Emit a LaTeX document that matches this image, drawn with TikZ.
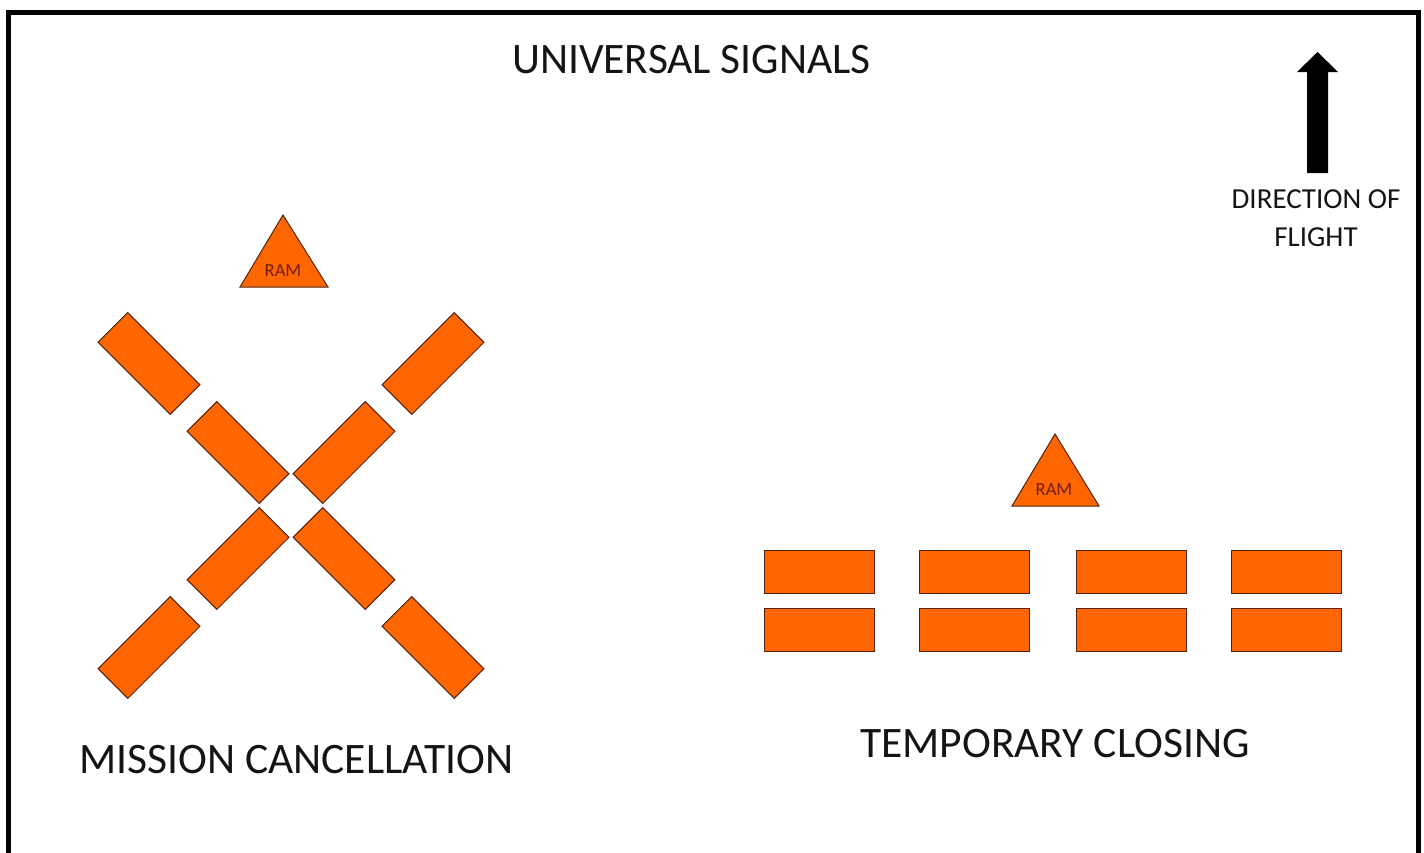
\documentclass[tikz,border=0pt]{standalone}
\usepackage{fontspec}
\setmainfont{Carlito}
\definecolor{signalorange}{RGB}{255,102,0}
\definecolor{signaledge}{RGB}{85,35,15}
\definecolor{ramred}{RGB}{115,30,20}
\tikzset{
  panel/.style={draw=signaledge, fill=signalorange, line width=1pt, inner sep=0pt,
    minimum width=102pt, minimum height=42pt},
  flatpanel/.style={panel, minimum width=110pt, minimum height=43pt},
  marker/.style={draw=signaledge, fill=signalorange, line width=1pt, line join=miter},
  bigtext/.style={font=\fontsize{43.5}{50}\selectfont, text=black!92, anchor=base, inner sep=0pt},
  smalltext/.style={font=\fontsize{29}{34}\selectfont, text=black!92, anchor=base, inner sep=0pt},
  ramtext/.style={font=\fontsize{18.5}{20}\selectfont, text=ramred, anchor=base, inner sep=0pt}
}
\begin{document}
\begin{tikzpicture}[x=1pt,y=-1pt]
  \useasboundingbox (0,0) rectangle (1424,852);
  % frame, open at the bottom
  \draw[line width=5pt] (8,900) -- (8,12) -- (1418,12) -- (1418,900);

  \node[bigtext] (title) at (691.5,73) {UNIVERSAL SIGNALS};

  % direction of flight
  \fill (1307,173) -- (1307,72) -- (1297,72) -- (1317.5,52) -- (1338,72)
    -- (1328,72) -- (1328,173) -- cycle;
  \node[smalltext] (dir) at (1316,208) {DIRECTION OF};
  \node[smalltext] (flight) at (1316,246) {FLIGHT};

  % mission cancellation
  \draw[marker] (283,215) -- (328,287) -- (240,287) -- cycle;
  \node[ramtext] (ramA) at (283,276) {RAM};
  \node[panel,rotate=-45] (d1) at (149,363.5) {};
  \node[panel,rotate=-45] (d2) at (238,452.5) {};
  \node[panel,rotate=-45] (d3) at (344,558.5) {};
  \node[panel,rotate=-45] (d4) at (433,647.5) {};
  \node[panel,rotate=45] (u1) at (433,363.5) {};
  \node[panel,rotate=45] (u2) at (344,452.5) {};
  \node[panel,rotate=45] (u3) at (238,558.5) {};
  \node[panel,rotate=45] (u4) at (149,647.5) {};
  \node[bigtext] (cancel) at (296.5,773) {MISSION CANCELLATION};

  % temporary closing
  \draw[marker] (1055,434) -- (1099,506) -- (1012,506) -- cycle;
  \node[ramtext] (ramB) at (1054,495) {RAM};
  \foreach \x [count=\i] in {819,974,1131,1286.5} {
    \node[flatpanel] (top\i) at (\x,571.5) {};
    \node[flatpanel] (low\i) at (\x,630) {};
  }
  \node[bigtext] (closing) at (1055,757) {TEMPORARY CLOSING};
\end{tikzpicture}
\end{document}
